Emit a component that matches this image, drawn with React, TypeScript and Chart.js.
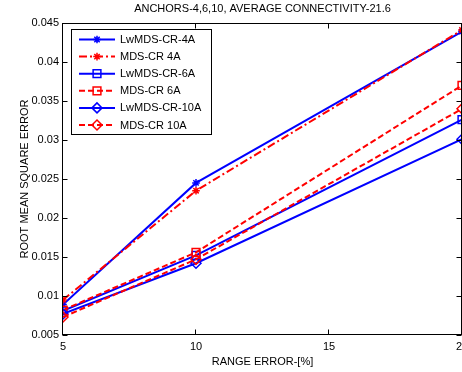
import React, { useEffect, useRef } from 'react';
import { Chart, registerables } from 'chart.js';
import { drawPoint } from 'chart.js/helpers';

Chart.register(...registerables);

// ---- data ----
const rangeError = [5, 10, 20];
const lwmds4A = [0.0089, 0.0245, 0.0439];
const mds4A = [0.0095, 0.0235, 0.0441];
const lwmds6A = [0.0081, 0.0152, 0.0326];
const mds6A = [0.0082, 0.0156, 0.037];
const lwmds10A = [0.0077, 0.0142, 0.0301];
const mds10A = [0.0073, 0.0147, 0.034];

const xTicks = [5, 10, 15, 20];
const yTicks = [0.005, 0.01, 0.015, 0.02, 0.025, 0.03, 0.035, 0.04, 0.045];

const seriesLabels = ['LwMDS-CR-4A', 'MDS-CR 4A', 'LwMDS-CR-6A', 'MDS-CR 6A', 'LwMDS-CR-10A', 'MDS-CR 10A'];
const seriesValues = [lwmds4A, mds4A, lwmds6A, mds6A, lwmds10A, mds10A];
const seriesColors = ['#0000ff', '#ff0000', '#0000ff', '#ff0000', '#0000ff', '#ff0000'];
const seriesDash: number[][] = [[], [8, 3, 2, 3], [], [6, 3], [], [6, 3]];
const seriesMarker = ['star', 'star', 'rect', 'rect', 'rectRot', 'rectRot'];
const seriesRadius = [3.8, 3.8, 5.5, 5.5, 5, 5];

const titleText = 'ANCHORS-4,6,10, AVERAGE CONNECTIVITY-21.6';
const xTitle = 'RANGE ERROR-[%]';
const yTitle = 'ROOT MEAN SQUARE ERROR';

const FONT = "'Liberation Sans', Arial, Helvetica, sans-serif";

const decorPlugin = {
  id: 'decor',
  afterDatasetsDraw(chart: any) {
    const { ctx, chartArea: a, scales } = chart;
    const xs = scales.x;
    const ys = scales.y;
    ctx.save();
    ctx.strokeStyle = '#000';
    ctx.lineWidth = 1;
    ctx.setLineDash([]);
    const L = Math.round(a.left) - 0.5;
    const R = Math.round(a.right) - 0.5;
    const T = Math.round(a.top) + 0.5;
    const B = Math.round(a.bottom) - 0.5;
    ctx.strokeRect(L, T, R - L, B - T);
    ctx.beginPath();
    xTicks.forEach((v) => {
      const px = Math.round(xs.getPixelForValue(v)) - 0.5;
      ctx.moveTo(px, B);
      ctx.lineTo(px, B - 5);
      ctx.moveTo(px, T);
      ctx.lineTo(px, T + 5);
    });
    yTicks.forEach((v) => {
      const py = Math.round(ys.getPixelForValue(v)) + 0.5;
      ctx.moveTo(L, py);
      ctx.lineTo(L + 5, py);
      ctx.moveTo(R, py);
      ctx.lineTo(R - 5, py);
    });
    ctx.stroke();
    ctx.restore();
  },
  afterDraw(chart: any) {
    const { ctx, chartArea: a } = chart;
    ctx.save();
    ctx.fillStyle = '#000';
    ctx.font = `11px ${FONT}`;
    ctx.textAlign = 'center';
    ctx.textBaseline = 'middle';
    const cx = (a.left + a.right) / 2;
    ctx.fillText(titleText, cx, 9);
    ctx.fillText(xTitle, cx, 362);
    ctx.save();
    ctx.translate(25, (a.top + a.bottom) / 2);
    ctx.rotate(-Math.PI / 2);
    ctx.fillText(yTitle, 0, 0);
    ctx.restore();

    // legend
    const bx = 71.5, by = 29.5, bw = 140, bh = 105;
    ctx.fillStyle = '#fff';
    ctx.fillRect(bx, by, bw, bh);
    ctx.strokeStyle = '#000';
    ctx.lineWidth = 1;
    ctx.strokeRect(bx, by, bw, bh);
    seriesLabels.forEach((lab, i) => {
      const yy = 39.5 + i * 17.1;
      ctx.save();
      ctx.strokeStyle = seriesColors[i];
      ctx.lineWidth = 2;
      ctx.setLineDash(seriesDash[i]);
      ctx.beginPath();
      ctx.moveTo(79, yy);
      ctx.lineTo(115, yy);
      ctx.stroke();
      ctx.setLineDash([]);
      ctx.lineWidth = 1.5;
      ctx.fillStyle = 'rgba(0,0,0,0)';
      drawPoint(ctx, { pointStyle: seriesMarker[i], radius: seriesRadius[i], borderWidth: 1.5, rotation: 0 } as any, 97, yy);
      ctx.restore();
      ctx.fillStyle = '#000';
      ctx.font = `11px ${FONT}`;
      ctx.textAlign = 'left';
      ctx.textBaseline = 'middle';
      ctx.fillText(lab, 120, yy + 0.5);
    });
    ctx.restore();
  },
};

export default function App() {
  const ref = useRef<HTMLCanvasElement>(null);
  useEffect(() => {
    if (!ref.current) return;
    Chart.defaults.font.family = FONT;
    const datasets = seriesLabels.map((lab, i) => ({
      label: lab,
      data: rangeError.map((x, j) => ({ x, y: seriesValues[i][j] })),
      borderColor: seriesColors[i],
      backgroundColor: 'rgba(0,0,0,0)',
      borderWidth: 2,
      borderDash: seriesDash[i],
      pointStyle: seriesMarker[i] as any,
      pointRadius: seriesRadius[i],
      pointBorderWidth: 1.5,
      pointBorderColor: seriesColors[i],
      pointBackgroundColor: 'rgba(0,0,0,0)',
      tension: 0,
      fill: false,
      order: 10 - i,
    }));
    const chart = new Chart(ref.current, {
      type: 'line',
      data: { datasets },
      options: {
        responsive: false,
        animation: false,
        devicePixelRatio: 1,
        layout: { padding: { top: 23, right: 18, left: 0, bottom: 0 } },
        plugins: {
          legend: { display: false },
          title: { display: false },
          tooltip: { enabled: false },
        },
        scales: {
          x: {
            type: 'linear',
            min: 5,
            max: 20,
            afterBuildTicks: (s: any) => {
              s.ticks = xTicks.map((v) => ({ value: v }));
            },
            afterFit: (s: any) => {
              s.height = 37;
            },
            grid: { display: false, drawTicks: false },
            border: { display: false },
            ticks: {
              padding: 5,
              color: '#000',
              font: { size: 11, family: FONT },
              maxRotation: 0,
              autoSkip: false,
              callback: (v: any) => String(v),
            },
          },
          y: {
            type: 'linear',
            min: 0.005,
            max: 0.045,
            afterBuildTicks: (s: any) => {
              s.ticks = yTicks.map((v) => ({ value: v }));
            },
            afterFit: (s: any) => {
              s.width = 63;
            },
            grid: { display: false, drawTicks: false },
            border: { display: false },
            ticks: {
              padding: 4,
              color: '#000',
              font: { size: 11, family: FONT },
              autoSkip: false,
              callback: (v: any) => String(Number(Number(v).toFixed(3))),
            },
          },
        },
      },
      plugins: [decorPlugin],
    });
    return () => chart.destroy();
  }, []);
  return (
    <div
      style={{
        position: 'fixed',
        left: 0,
        top: 0,
        width: 462,
        height: 372,
        overflow: 'hidden',
        background: '#fff',
      }}
    >
      <canvas ref={ref} width={480} height={372} style={{ display: 'block', width: 480, height: 372 }} />
    </div>
  );
}
